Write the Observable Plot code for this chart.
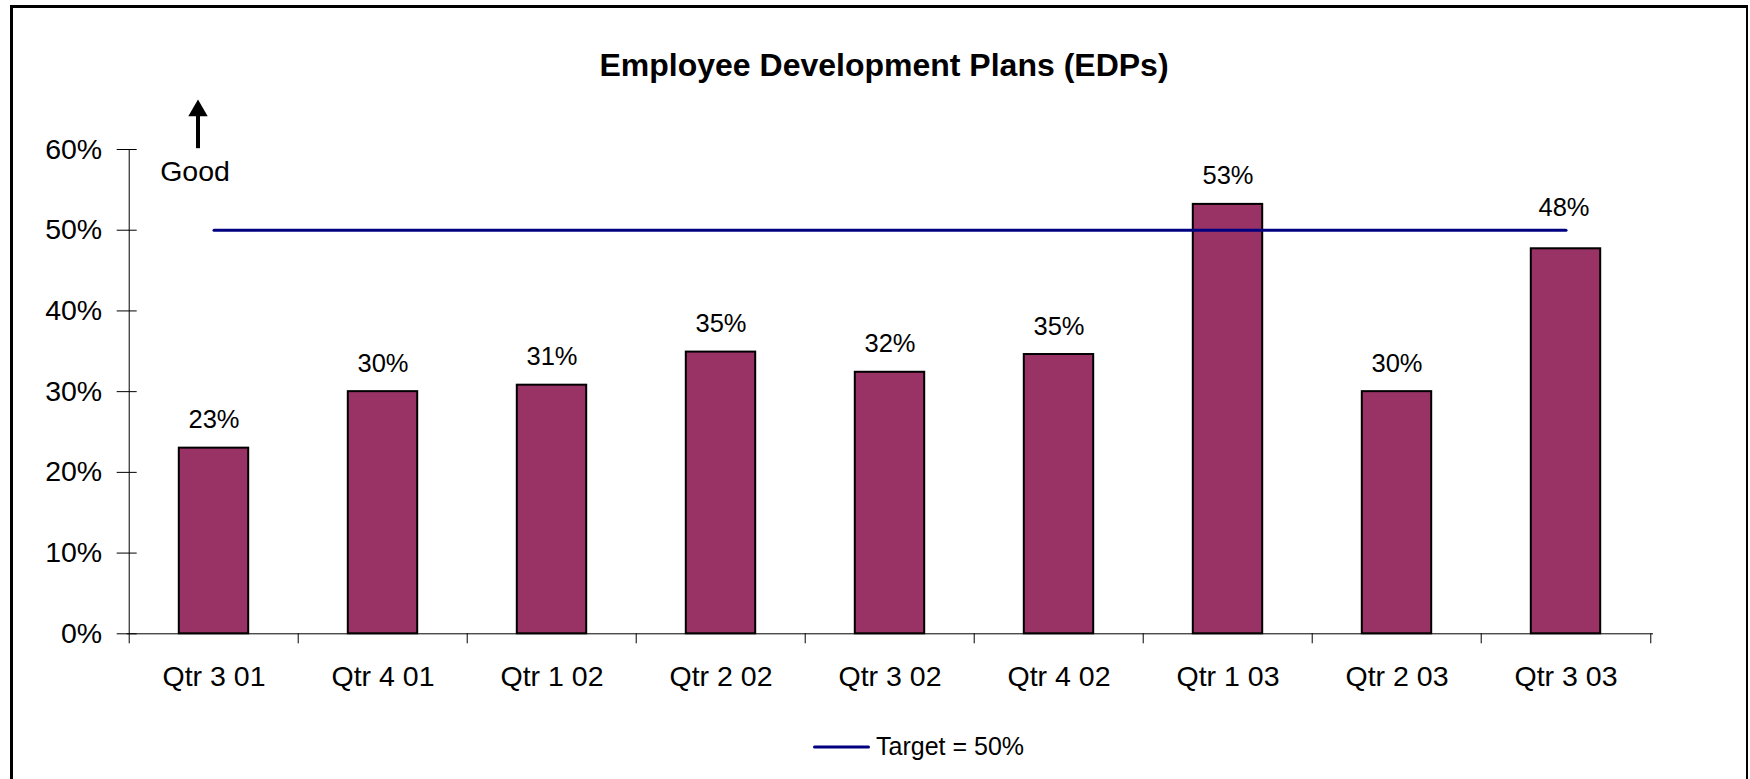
<!DOCTYPE html>
<html>
<head>
<meta charset="utf-8">
<script src="https://cdn.jsdelivr.net/npm/d3@7"></script>
<script src="https://cdn.jsdelivr.net/npm/@observablehq/plot@0.6"></script>
<style>
  html, body { margin: 0; padding: 0; background: #fff; overflow: hidden; }
  #wrap { position: relative; width: 1750px; height: 779px; overflow: hidden; font-family: "Liberation Sans", Arial, sans-serif; }
  #frame { position: absolute; left: 10px; top: 5px; width: 1738px; height: 900px; box-sizing: border-box;
           border-left: 3px solid #000; border-top: 3px solid #000; border-right: 2px solid #000; }
  #title { position: absolute; left: 884px; top: 49px; transform: translateX(-50%); white-space: nowrap;
           font-weight: bold; font-size: 32px; line-height: 32px; color: #000; }
  #chart { position: absolute; left: 0; top: 0; }
  #legend { position: absolute; left: 813px; top: 734px; height: 25px; display: flex; align-items: center;
            font-size: 25px; line-height: 25px; color: #000; white-space: nowrap; }
  #legend svg { margin-right: 6px; }
</style>
</head>
<body>
<div id="wrap">
  <div id="frame"></div>
  <div id="chart"></div>
  <div id="title"></div>
  <div id="legend"></div>
</div>
<script>
// ---- data ----
const quarters = ["Qtr 3 01", "Qtr 4 01", "Qtr 1 02", "Qtr 2 02", "Qtr 3 02", "Qtr 4 02", "Qtr 1 03", "Qtr 2 03", "Qtr 3 03"];
const edpValues = [23.0, 30.0, 30.8, 34.9, 32.4, 34.6, 53.2, 30.0, 47.7];
const targetValue = 50;
const yTicks = [0, 10, 20, 30, 40, 50, 60];
const titleText = "Employee Development Plans (EDPs)";
const legendText = "Target = 50%";
const goodText = "Good";
// labels that were lifted clear of the target line in the original
const liftedLabels = ["Qtr 3 03"];
// annotation ("Good" arrow) positions in data units
const goodArrow = {x: quarters[0], yBase: 60.1, yTop: 64.1, yHead: 64.8, yText: 57.2};

const rows = quarters.map((q, i) => ({q, v: edpValues[i]}));
const targetRows = quarters.map(q => ({q, v: targetValue}));

const W = 1750, H = 779;
const mLeft = 126.7, mRight = 97, mTop = 149, mBottom = 145.7;
const step = (W - mLeft - mRight) / quarters.length;
const barWidth = 70;
const inset = (step - barWidth) / 2;
const font = "Liberation Sans, Arial, sans-serif";
const fmt = d => Math.round(d.v) + "%";

const chart = Plot.plot({
  width: W,
  height: H,
  marginLeft: mLeft,
  marginRight: mRight,
  marginTop: mTop,
  marginBottom: mBottom,
  style: {fontFamily: font, color: "#000", background: "transparent", overflow: "visible"},
  x: {domain: quarters, padding: 0, label: null},
  y: {domain: [0, 60], label: null},
  marks: [
    Plot.barY(rows, {x: "q", y: "v", fill: "#993366", stroke: "#000", strokeWidth: 2, insetLeft: inset, insetRight: inset}),
    Plot.ruleY([0], {stroke: "#000", strokeWidth: 1}),
    // y axis line along the left edge of the first band
    Plot.ruleX([quarters[0]], {x: d => d, y1: 0, y2: 60, dx: -step / 2, stroke: "#000", strokeWidth: 1}),
    // y axis: labels, and ticks crossing the axis
    Plot.axisY({ticks: yTicks, tickSize: 0, tickPadding: 25, tickFormat: d => d + "%", fontSize: 28.5}),
    Plot.axisY({ticks: yTicks, tickSize: 20, dx: 10, tickFormat: () => "", stroke: "#000"}),
    // x axis: boundary ticks + labels
    Plot.axisX({tickSize: 10, dx: -step / 2, tickFormat: () => "", stroke: "#000"}),
    Plot.axisX({ticks: [quarters[quarters.length - 1]], tickSize: 10, dx: step / 2, tickFormat: () => "", stroke: "#000"}),
    Plot.axisX({tickSize: 0, tickPadding: 32, fontSize: 28.5}),
    // target line
    Plot.lineY(targetRows, {x: "q", y: "v", stroke: "#000080", strokeWidth: 3}),
    // value labels
    Plot.text(rows.filter(d => !liftedLabels.includes(d.q)), {x: "q", y: "v", text: fmt, lineAnchor: "bottom", dy: -20, fontSize: 25.5, fill: "#000"}),
    Plot.text(rows.filter(d => liftedLabels.includes(d.q)), {x: "q", y: "v", text: fmt, lineAnchor: "bottom", dy: -33, dx: -2, fontSize: 25.5, fill: "#000"}),
    // "Good" annotation
    Plot.ruleX([goodArrow], {x: "x", y1: "yBase", y2: "yTop", dx: -16, stroke: "#000", strokeWidth: 4}),
    Plot.dot([goodArrow], {x: "x", y: "yHead", dx: -16, symbol: "triangle", r: 7.2, fill: "#000", stroke: "none"}),
    Plot.text([goodArrow], {x: "x", y: "yText", text: () => goodText, dx: -19, fontSize: 28.5, fill: "#000"})
  ]
});
document.getElementById("chart").appendChild(chart);
document.getElementById("title").textContent = titleText;

const legend = document.getElementById("legend");
legend.innerHTML = `<svg width="57" height="8"><line x1="1.5" x2="55.5" y1="4" y2="4" stroke="#000080" stroke-width="3" stroke-linecap="round"/></svg><span></span>`;
legend.querySelector("span").textContent = legendText;
</script>
</body>
</html>
